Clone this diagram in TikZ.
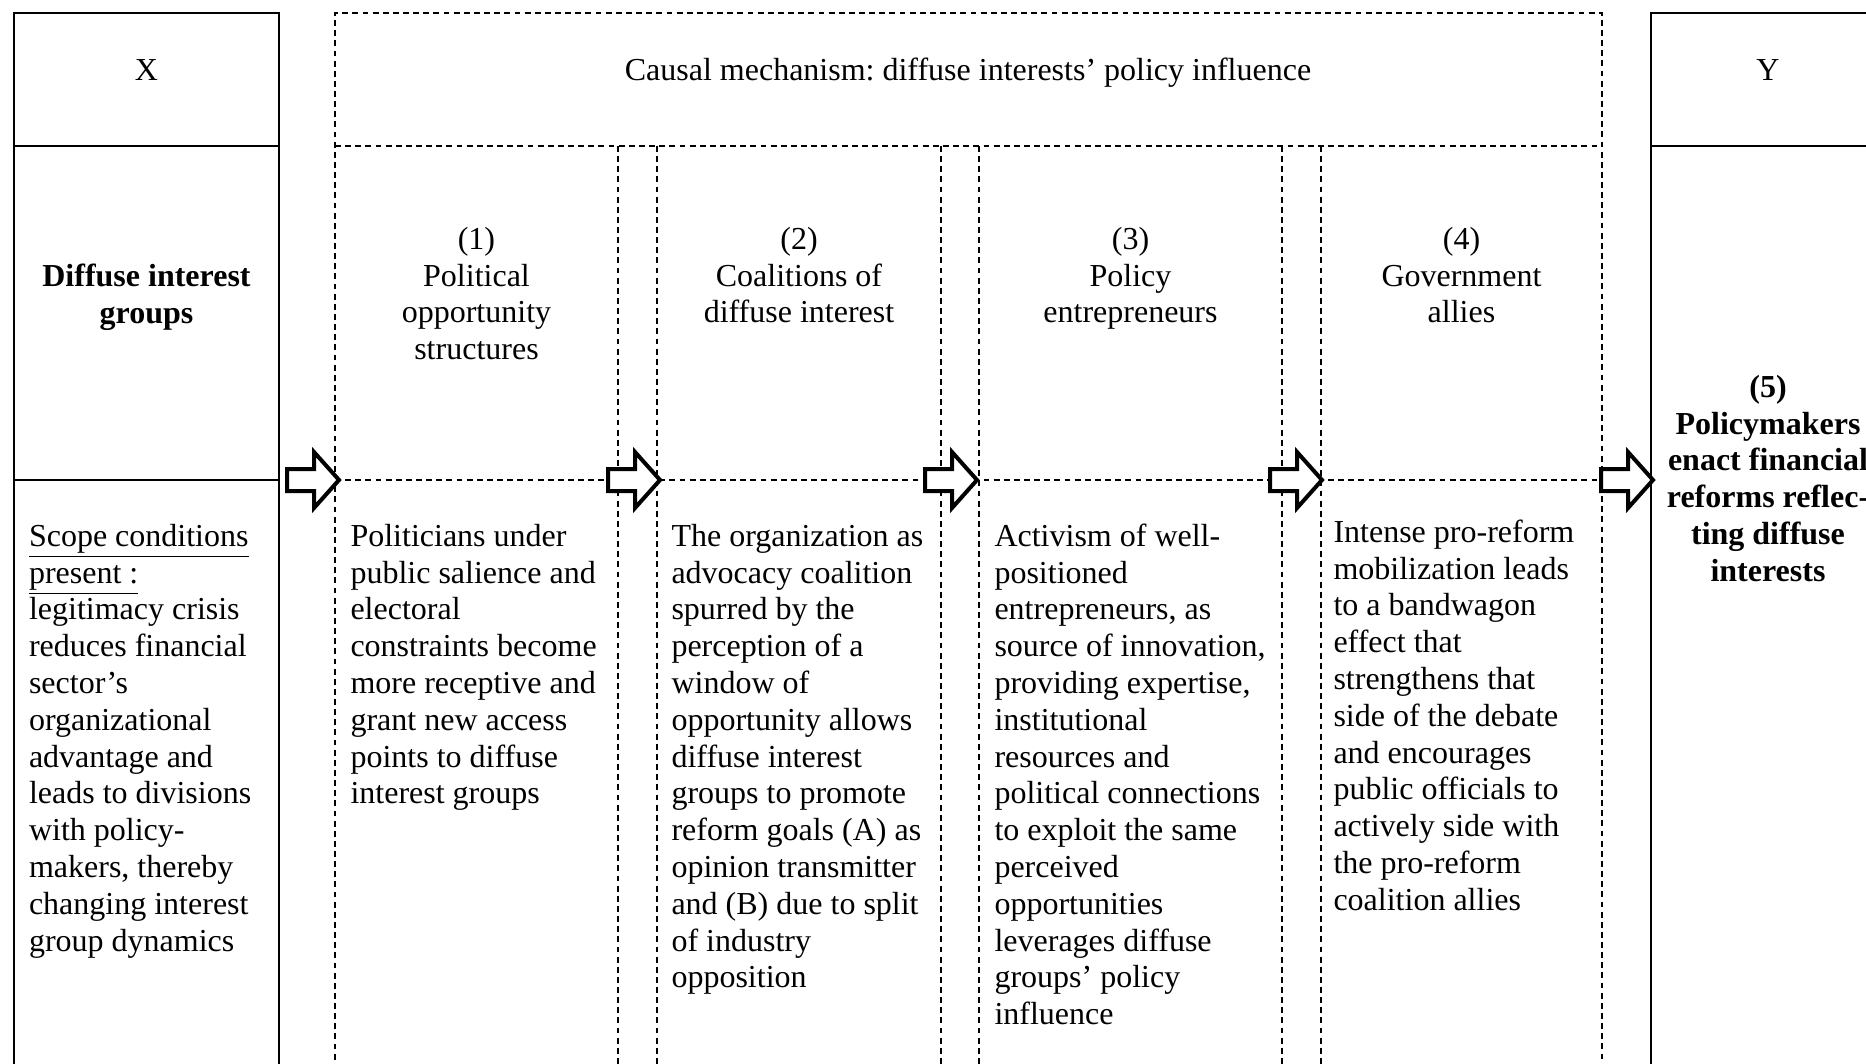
\documentclass[tikz,border=0pt]{standalone}
\usepackage{fontspec}
\setmainfont{Liberation Serif}
\frenchspacing
\newcommand\tablefont{\fontsize{12}{13.8}\selectfont}
\tikzset{
  solidline/.style={line width=0.6pt},
  dashline/.style={line width=0.5pt, dash pattern=on 2.2pt off 1.6pt},
  celltext/.style={font=\tablefont, align=left, inner sep=0pt, anchor=north west},
  headtext/.style={font=\tablefont, align=center, inner sep=0pt, anchor=north},
  blockarrow/.pic={\draw[line width=1.5pt, miter limit=10, fill=white] (-52,-11) -- (-25,-11) -- (-25,-28) -- (0,0) -- (-25,28) -- (-25,11) -- (-52,11) -- cycle;}
}
\begin{document}
\begin{tikzpicture}[x=0.375pt,y=-0.375pt]
\useasboundingbox (0,0) rectangle (1866,1064);
\clip (0,0) rectangle (1866,1064);
\draw[solidline] (14,13) rectangle (279,1090);
\draw[solidline] (14,146) -- (279,146) (14,480) -- (279,480);
\draw[solidline] (1651,1090) -- (1651,13) -- (1890,13) (1651,146) -- (1890,146);
\draw[dashline] (335,1090) -- (335,13) -- (1602,13) -- (1602,1090);
\draw[dashline] (335,146) -- (1602,146) (335,480) -- (1602,480);
\foreach \xc in {618,657,941,979,1282,1321}
  \draw[dashline] (\xc,146) -- (\xc,1090);
\node[headtext, anchor=base] (xhead) at (146.5,80) {X};
\node[headtext, anchor=base] (mechhead) at (968,80) {Causal mechanism: diffuse interests’ policy influence};
\node[headtext, anchor=base] (yhead) at (1768,80) {Y};
\node[headtext] (xtitle) at (146.5,260) {\strut\textbf{Diffuse interest}\\\textbf{groups}};
\node[headtext] (head1) at (476.5,223) {\strut(1)\\Political\\opportunity\\structures};
\node[headtext] (head2) at (799,223) {\strut(2)\\Coalitions of\\diffuse interest};
\node[headtext] (head3) at (1130.5,223) {\strut(3)\\Policy\\entrepreneurs};
\node[headtext] (head4) at (1461.5,223) {\strut(4)\\Government\\allies};
\node[headtext, font=\tablefont\bfseries] (ytext) at (1768,371) {\strut(5)\\Policymakers\\enact financial\\reforms reflec-\\ting diffuse\\interests};
\node[celltext] (xbody) at (28.5,520) {\strut\underline{Scope conditions}\\\underline{present :}\\legitimacy crisis\\reduces financial\\sector’s\\organizational\\advantage and\\leads to divisions\\with policy-\\makers, thereby\\changing interest\\group dynamics};
\node[celltext] (body1) at (350,520) {\strut Politicians under\\public salience and\\electoral\\constraints become\\more receptive and\\grant new access\\points to diffuse\\interest groups};
\node[celltext] (body2) at (671,520) {\strut The organization as\\advocacy coalition\\spurred by the\\perception of a\\window of\\opportunity allows\\diffuse interest\\groups to promote\\reform goals (A) as\\opinion transmitter\\and (B) due to split\\of industry\\opposition};
\node[celltext] (body3) at (994,520) {\strut Activism of well-\\positioned\\entrepreneurs, as\\source of innovation,\\providing expertise,\\institutional\\resources and\\political connections\\to exploit the same\\perceived\\opportunities\\leverages diffuse\\groups’ policy\\influence};
\node[celltext] (body4) at (1333,516) {\strut Intense pro-reform\\mobilization leads\\to a bandwagon\\effect that\\strengthens that\\side of the debate\\and encourages\\public officials to\\actively side with\\the pro-reform\\coalition allies};
\coordinate (tip1) at (339,480);
\coordinate (tip2) at (660,480);
\coordinate (tip3) at (977,480);
\coordinate (tip4) at (1322,480);
\coordinate (tip5) at (1653,480);
\foreach \t in {tip1,tip2,tip3,tip4,tip5}
  \pic at (\t) {blockarrow};
\end{tikzpicture}
\end{document}
